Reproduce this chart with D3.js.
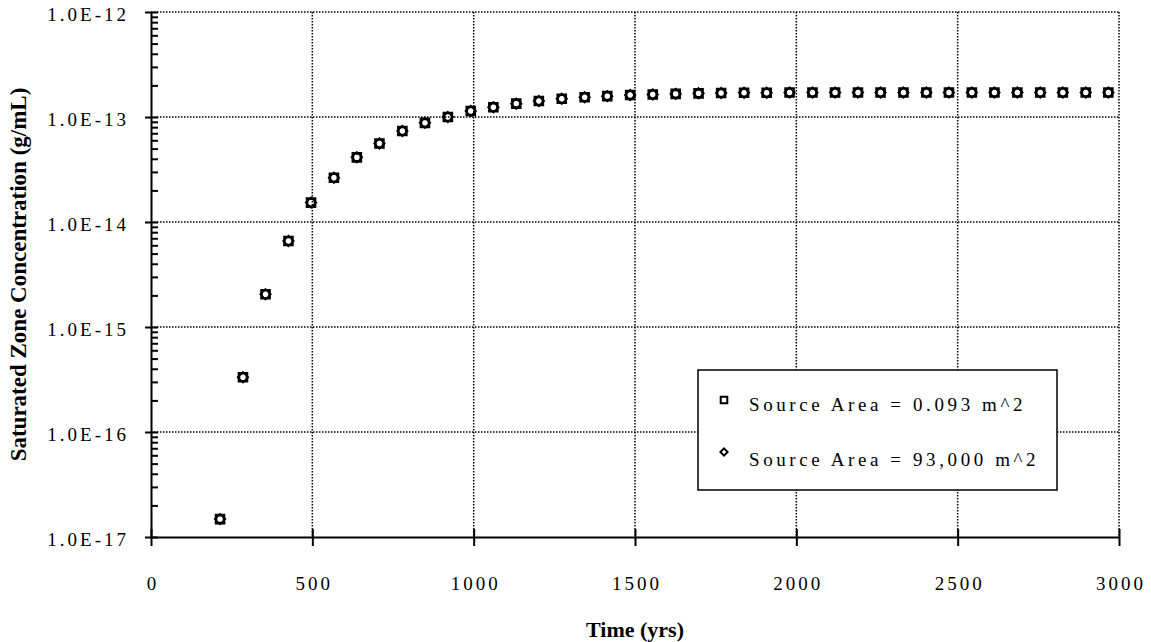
<!DOCTYPE html>
<html>
<head>
<meta charset="utf-8">
<script src="https://cdn.jsdelivr.net/npm/d3@7"></script>
<style>
    body { margin: 0; background: #fff; }
    svg text { font-family: "Liberation Serif", "Times New Roman", serif; fill: #000; }
</style>
</head>
<body>
<svg id="chart"></svg>
<script>
// time (yrs) of each output step
const times = [214, 285, 355, 426, 496, 567, 638, 708, 779, 849,
    920, 991, 1061, 1132, 1202, 1273, 1344, 1414, 1485, 1555,
    1626, 1697, 1767, 1838, 1908, 1979, 2050, 2120, 2191, 2261,
    2332, 2403, 2473, 2544, 2614, 2685, 2756, 2826, 2897, 2967];

// saturated zone concentration (g/mL), source area = 0.093 m^2
const concSmall = [1.48e-17, 3.32e-16, 2.05e-15, 6.6e-15, 1.53e-14, 2.64e-14, 4.13e-14, 5.6e-14, 7.35e-14, 8.8e-14,
    1.0e-13, 1.14e-13, 1.24e-13, 1.34e-13, 1.42e-13, 1.49e-13, 1.54e-13, 1.58e-13, 1.62e-13, 1.64e-13,
    1.66e-13, 1.68e-13, 1.69e-13, 1.70e-13, 1.70e-13, 1.71e-13, 1.71e-13, 1.71e-13, 1.71e-13, 1.71e-13,
    1.71e-13, 1.71e-13, 1.71e-13, 1.71e-13, 1.71e-13, 1.71e-13, 1.71e-13, 1.71e-13, 1.71e-13, 1.71e-13];

// source area = 93,000 m^2 (plots on top of the small-area series)
const concLarge = [1.48e-17, 3.32e-16, 2.05e-15, 6.6e-15, 1.53e-14, 2.64e-14, 4.13e-14, 5.6e-14, 7.35e-14, 8.8e-14,
    1.0e-13, 1.14e-13, 1.24e-13, 1.34e-13, 1.42e-13, 1.49e-13, 1.54e-13, 1.58e-13, 1.62e-13, 1.64e-13,
    1.66e-13, 1.68e-13, 1.69e-13, 1.70e-13, 1.70e-13, 1.71e-13, 1.71e-13, 1.71e-13, 1.71e-13, 1.71e-13,
    1.71e-13, 1.71e-13, 1.71e-13, 1.71e-13, 1.71e-13, 1.71e-13, 1.71e-13, 1.71e-13, 1.71e-13, 1.71e-13];

const xTicks = [0, 500, 1000, 1500, 2000, 2500, 3000];
const yTicks = [1e-17, 1e-16, 1e-15, 1e-14, 1e-13, 1e-12];
const yTickLabels = ["1.0E-17", "1.0E-16", "1.0E-15", "1.0E-14", "1.0E-13", "1.0E-12"];
const seriesNames = ["Source Area = 0.093 m^2", "Source Area = 93,000 m^2"];

(function () {
    const W = 1151;
    const H = 642;
    const plot = { left: 151, right: 1119, top: 12, bottom: 537 };

    const svg = d3.select("#chart")
        .attr("width", W)
        .attr("height", H);

    const x = d3.scaleLinear()
        .domain([0, 3000])
        .range([plot.left, plot.right]);

    const y = d3.scaleLog()
        .domain([1e-17, 1e-12])
        .range([plot.bottom, plot.top]);

    // minor ticks 2..9 in every decade
    const minorTicks = [];
    yTicks.slice(0, -1).forEach(d => {
        for (let k = 2; k <= 9; k++) minorTicks.push(d * k);
    });

    // dotted grid
    const grid = svg.append("g")
        .attr("stroke", "#000")
        .attr("stroke-width", 1.5)
        .attr("stroke-dasharray", "1.5,1.5");

    grid.selectAll(".hgrid")
        .data(yTicks.slice(1))
        .enter().append("line")
        .attr("x1", plot.left)
        .attr("x2", plot.right)
        .attr("y1", d => y(d))
        .attr("y2", d => y(d));

    grid.selectAll(".vgrid")
        .data(xTicks.slice(1))
        .enter().append("line")
        .attr("x1", d => x(d))
        .attr("x2", d => x(d))
        .attr("y1", plot.top)
        .attr("y2", plot.bottom);

    // y axis minor ticks (inside)
    svg.append("g")
        .attr("transform", `translate(${plot.left},0)`)
        .call(d3.axisRight(y).tickValues(minorTicks).tickSize(7).tickFormat(""))
        .call(g => g.select(".domain").remove())
        .call(g => g.selectAll("line").attr("stroke-width", 2));

    // y axis
    svg.append("g")
        .attr("class", "y-axis")
        .attr("transform", `translate(${plot.left},0)`)
        .call(d3.axisLeft(y).tickValues(yTicks).tickSize(6).tickPadding(16)
            .tickFormat((d, i) => yTickLabels[i]).tickSizeOuter(0))
        .call(g => g.select(".domain").attr("stroke-width", 2))
        .call(g => g.selectAll(".tick line").attr("x2", -6).attr("x1", 7).attr("stroke-width", 2))
        .call(g => g.selectAll("text")
            .attr("font-size", 19)
            .attr("letter-spacing", 3)
            .attr("dy", "0.45em"));

    // x axis
    svg.append("g")
        .attr("class", "x-axis")
        .attr("transform", `translate(0,${plot.bottom})`)
        .call(d3.axisBottom(x).tickValues(xTicks).tickSize(9).tickPadding(31)
            .tickFormat(d3.format("d")).tickSizeOuter(0))
        .call(g => g.select(".domain").attr("stroke-width", 2))
        .call(g => g.selectAll(".tick line").attr("y1", -8).attr("stroke-width", 2))
        .call(g => g.selectAll("text")
            .attr("font-size", 19)
            .attr("letter-spacing", 3)
            .attr("dx", 1.5));

    // axis titles
    svg.append("text")
        .attr("x", (plot.left + plot.right) / 2)
        .attr("y", 637)
        .attr("text-anchor", "middle")
        .attr("font-size", 22)
        .attr("font-weight", "bold")
        .text("Time (yrs)");

    svg.append("text")
        .attr("transform", `translate(26,${(plot.top + plot.bottom) / 2}) rotate(-90)`)
        .attr("text-anchor", "middle")
        .attr("font-size", 23)
        .attr("font-weight", "bold")
        .text("Saturated Zone Concentration (g/mL)");

    // markers
    const squarePath = s => `M${-s},${-s}H${s}V${s}H${-s}Z`;
    const diamondPath = r => `M0,${-r}L${r},0L0,${r}L${-r},0Z`;

    svg.append("g")
        .selectAll("path")
        .data(times.map((t, i) => [t, concSmall[i]]))
        .enter().append("path")
        .attr("transform", d => `translate(${x(d[0])},${y(d[1])})`)
        .attr("d", squarePath(4))
        .attr("fill", "none")
        .attr("stroke", "#000")
        .attr("stroke-width", 2.6);

    svg.append("g")
        .selectAll("path")
        .data(times.map((t, i) => [t, concLarge[i]]))
        .enter().append("path")
        .attr("transform", d => `translate(${x(d[0])},${y(d[1])})`)
        .attr("d", diamondPath(5.2))
        .attr("fill", "none")
        .attr("stroke", "#000")
        .attr("stroke-width", 1.8);

    // legend
    const legend = svg.append("g");
    legend.append("rect")
        .attr("x", 698)
        .attr("y", 370)
        .attr("width", 359)
        .attr("height", 120)
        .attr("fill", "#fff")
        .attr("stroke", "#000")
        .attr("stroke-width", 1.5);

    legend.append("path")
        .attr("transform", "translate(724,400)")
        .attr("d", squarePath(3.3))
        .attr("fill", "none")
        .attr("stroke", "#000")
        .attr("stroke-width", 2);

    legend.append("path")
        .attr("transform", "translate(724,452)")
        .attr("d", diamondPath(3.6))
        .attr("fill", "none")
        .attr("stroke", "#000")
        .attr("stroke-width", 2);

    legend.selectAll(".label")
        .data(seriesNames)
        .enter().append("text")
        .attr("x", 749)
        .attr("y", (d, i) => 411 + i * 55)
        .attr("font-size", 19)
        .attr("letter-spacing", 3.6)
        .text(d => d);
})();
</script>
</body>
</html>
